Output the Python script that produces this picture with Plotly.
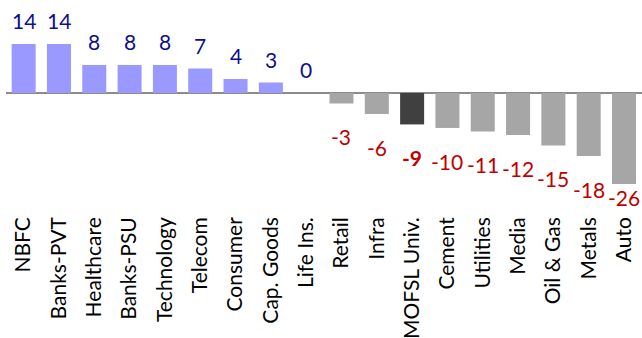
import plotly.graph_objects as go

# Sector returns (%)
sectors = ["NBFC", "Banks-PVT", "Healthcare", "Banks-PSU", "Technology", "Telecom",
           "Consumer", "Cap. Goods", "Life Ins.", "Retail", "Infra", "MOFSL Univ.",
           "Cement", "Utilities", "Media", "Oil & Gas", "Metals", "Auto"]
returns = [14, 14, 8, 8, 8, 7, 4, 3, 0, -3, -6, -9, -10, -11, -12, -15, -18, -26]
benchmark = "MOFSL Univ."

POS_BAR = "#9999FF"
NEG_BAR = "#A6A6A6"
BENCH_BAR = "#404040"
POS_TXT = "#0E0E8C"
NEG_TXT = "#C00000"
FONT = "Lato"

Y_MIN, Y_MAX = -32.9, 26.6
LABEL_FLOOR = -20.3  # keep the lowest value label inside the plot area

bar_colors = []
for s, v in zip(sectors, returns):
    if s == benchmark:
        bar_colors.append(BENCH_BAR)
    elif v >= 0:
        bar_colors.append(POS_BAR)
    else:
        bar_colors.append(NEG_BAR)

fig = go.Figure(go.Bar(x=sectors, y=returns, marker=dict(color=bar_colors, line_width=0),
                       hoverinfo="skip"))

for s, v in zip(sectors, returns):
    txt = str(v)
    if s == benchmark:
        txt = f"<b>{v}</b>"
    if v >= 0:
        fig.add_annotation(x=s, y=v, text=txt, showarrow=False, yanchor="bottom",
                           yshift=9, font=dict(family=FONT, size=21, color=POS_TXT))
    else:
        fig.add_annotation(x=s, y=max(v, LABEL_FLOOR), text=txt, showarrow=False,
                           yanchor="top", yshift=-19,
                           font=dict(family=FONT, size=21, color=NEG_TXT))

fig.update_layout(
    width=642, height=338,
    margin=dict(l=6, r=0, t=0, b=130),
    paper_bgcolor="white", plot_bgcolor="white",
    bargap=0.32, showlegend=False,
    font=dict(family=FONT, size=21, color="black"),
)
fig.update_xaxes(tickangle=-90, showgrid=False, showline=False, ticks="",
                 ticklabelstandoff=4,
                 tickfont=dict(family=FONT, size=21, color="black"))
fig.update_yaxes(range=[Y_MIN, Y_MAX], showgrid=False, showticklabels=False,
                 zeroline=True, zerolinecolor="#8C8C8C", zerolinewidth=2, showline=False)

fig.write_html("out.html")
